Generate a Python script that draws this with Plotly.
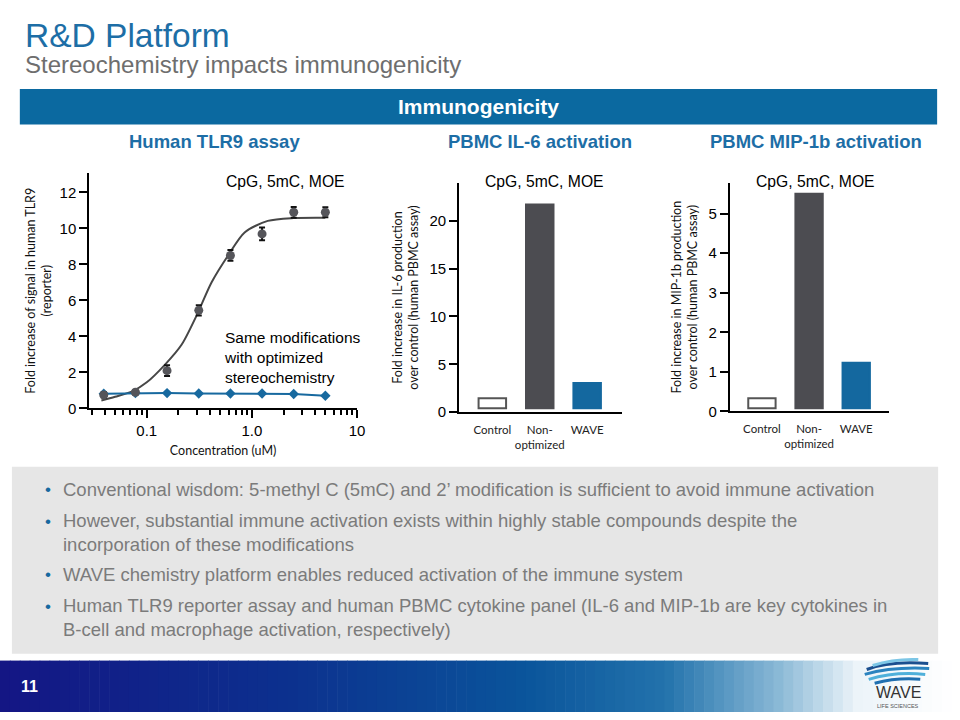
import plotly.graph_objects as go

# ---------------- data ----------------
conc_um = [0.039, 0.078, 0.156, 0.3125, 0.625, 1.25, 2.5, 5.0]
tlr9_nonopt = [0.75, 0.9, 2.1, 5.45, 8.5, 9.7, 10.9, 10.9]
tlr9_nonopt_err = [0.15, 0.12, 0.3, 0.28, 0.3, 0.35, 0.3, 0.28]
tlr9_wave = [0.82, 0.85, 0.85, 0.83, 0.83, 0.83, 0.8, 0.7]
# fitted curve
fit_conc = [0.037, 0.05, 0.073, 0.1, 0.15, 0.215, 0.3, 0.413, 0.594, 0.853, 1.415, 2.5, 5.0]
fit_vals = [0.44, 0.65, 0.95, 1.45, 2.45, 3.55, 5.2, 7.0, 8.5, 9.78, 10.42, 10.58, 10.6]

bar_cats = ["Control", "Non-<br>optimized", "WAVE"]
il6_vals = [1.45, 21.7, 3.05]
mip_vals = [0.33, 5.5, 1.23]
il6_base = [0.4, 0.4, 0.4]
mip_base = [0.08, 0.08, 0.08]

x_major = [0.1, 1, 10]
x_major_text = ["0.1", "1.0", "10"]
x_minor = [0.03, 0.04, 0.05, 0.06, 0.07, 0.08, 0.09,
           0.2, 0.3, 0.4, 0.5, 0.6, 0.7, 0.8, 0.9,
           2, 3, 4, 5, 6, 7, 8, 9]

bullets = [
    "Conventional wisdom: 5-methyl C (5mC) and 2’ modification is sufficient to avoid immune activation",
    "However, substantial immune activation exists within highly stable compounds despite the<br>incorporation of these modifications",
    "WAVE chemistry platform enables reduced activation of the immune system",
    "Human TLR9 reporter assay and human PBMC cytokine panel (IL-6 and MIP-1b are key cytokines in<br>B-cell and macrophage activation, respectively)",
]
bullet_y = [495, 538, 581, 624]

# ---------------- helpers ----------------
W, H = 960, 720
def px(x): return x / W
def py(y): return 1 - y / H

BLUE = "#17699f"
DARK = "#4c4c51"
ARIAL = "Arial, Liberation Sans, sans-serif"
MYR = "Lato, Open Sans, sans-serif"

fig = go.Figure()

# TLR9 chart
fig.add_trace(go.Scatter(x=fit_conc, y=fit_vals, mode="lines", line=dict(color="#474747", width=2, shape="spline", smoothing=0.8),
                         xaxis="x", yaxis="y", showlegend=False, hoverinfo="skip"))
fig.add_trace(go.Scatter(x=conc_um, y=tlr9_wave, mode="lines+markers",
                         line=dict(color=BLUE, width=2), marker=dict(symbol="diamond", size=8, color=BLUE),
                         xaxis="x", yaxis="y", showlegend=False))
fig.add_trace(go.Scatter(x=conc_um, y=tlr9_nonopt, mode="markers",
                         marker=dict(symbol="circle", size=9, color="#55555a"),
                         error_y=dict(type="data", array=tlr9_nonopt_err, color="#111111", thickness=2, width=3),
                         xaxis="x", yaxis="y", showlegend=False))

# bar charts
il6_len = [v - b for v, b in zip(il6_vals, il6_base)]
mip_len = [v - b for v, b in zip(mip_vals, mip_base)]
bar_fill = ["white", DARK, "#14689f"]
bar_line = ["#555555", DARK, "#14689f"]
fig.add_trace(go.Bar(x=bar_cats, y=il6_len, base=il6_base, width=0.58,
                     marker=dict(color=bar_fill, line=dict(color=bar_line, width=2)),
                     xaxis="x2", yaxis="y2", showlegend=False))
fig.add_trace(go.Bar(x=bar_cats, y=mip_len, base=mip_base, width=0.58,
                     marker=dict(color=bar_fill, line=dict(color=bar_line, width=2)),
                     xaxis="x3", yaxis="y3", showlegend=False))

axis_common = dict(showline=True, linecolor="black", linewidth=2, showgrid=False, zeroline=False,
                   tickfont=dict(family=ARIAL, size=15, color="black"))

shapes = []
# blue band
shapes.append(dict(type="rect", xref="paper", yref="paper", x0=px(20), x1=px(945), y0=py(126), y1=py(90),
                   fillcolor="#0b69a0", line=dict(width=0), layer="below"))
# gray box
shapes.append(dict(type="rect", xref="paper", yref="paper", x0=px(12), x1=px(946), y0=py(661), y1=py(472),
                   fillcolor="#e6e6e6", line=dict(width=0), layer="below"))
# footer gradient
stops = [(0.0, (20, 22, 132)), (0.3, (12, 48, 142)), (0.55, (10, 84, 155)), (0.7, (35, 115, 172)),
         (0.82, (140, 186, 215)), (0.9, (236, 244, 249)), (1.0, (255, 255, 255))]
def grad(t):
    for (t0, c0), (t1, c1) in zip(stops[:-1], stops[1:]):
        if t0 <= t <= t1:
            f = (t - t0) / (t1 - t0)
            return "rgb(%d,%d,%d)" % tuple(round(a + (b - a) * f) for a, b in zip(c0, c1))
    return "rgb(255,255,255)"
N = 96
for i in range(N):
    x0 = i * W / N
    x1 = (i + 1) * W / N + 0.6
    shapes.append(dict(type="rect", xref="paper", yref="paper", x0=px(x0), x1=min(px(x1), 1), y0=0, y1=py(668),
                       fillcolor=grad((i + 0.5) / N), line=dict(width=0), layer="below"))
# logo waves
wave_cols = ["#1b4f8f", "#2a83bf", "#4fb0da", "#1f6fb0", "#7cc6e6"]
wave_paths = [
    "M 874 677 Q 897 668 936 671",
    "M 872 682 Q 900 674 937 676",
    "M 876 687 Q 902 679 933 682",
    "M 882 691 Q 905 685 928 687",
    "M 880 673 Q 902 666 926 667",
]
for pth, col in zip(wave_paths, wave_cols):
    toks = pth.split()
    out = []
    i = 0
    while i < len(toks):
        tk = toks[i]
        if tk in ("M", "Q"):
            out.append(tk)
            i += 1
        else:
            xv = float(toks[i]); yv = float(toks[i + 1])
            out.append("%.5f,%.5f" % (px(xv), py(yv)))
            i += 2
    shapes.append(dict(type="path", xref="paper", yref="paper", path=" ".join(out),
                       line=dict(color=col, width=3)))

ann = []
def t(x, y, text, size, color="black", bold=False, family=ARIAL, xanchor="center", align="center", yanchor="middle"):
    ann.append(dict(x=px(x), y=py(y), xref="paper", yref="paper", text=("<b>%s</b>" % text) if bold else text,
                    showarrow=False, xanchor=xanchor, yanchor=yanchor, align=align,
                    font=dict(family=family, size=size, color=color)))

t(23, 36, "R&D Platform", 33.5, color="#1d6ea6", xanchor="left")
t(23, 65, "Stereochemistry impacts immunogenicity", 24, color="#6e6e6e", xanchor="left")
t(483, 108, "Immunogenicity", 21, color="white", bold=True)
t(216, 143, "Human TLR9 assay", 18.5, color="#1d6ea6", bold=True)
t(545, 143, "PBMC IL-6 activation", 18.5, color="#1d6ea6", bold=True)
t(823, 143, "PBMC MIP-1b activation", 18.5, color="#1d6ea6", bold=True)
t(288, 184, "CpG, 5mC, MOE", 15.7)
t(549, 184, "CpG, 5mC, MOE", 15.7)
t(822, 184, "CpG, 5mC, MOE", 15.7)
t(224, 362, "Same modifications<br>with optimized<br>stereochemistry", 15.5, xanchor="left", align="left")
for txt, yy in zip(bullets, bullet_y):
    t(62, yy, txt, 18.5, color="#7b7b7b", xanchor="left", align="left")
    first_y = yy - (11 if "<br>" in txt else 0)
    t(48, first_y, "•", 17, color=BLUE)
t(30, 694, "11", 16, color="white", bold=True)
t(906, 700, "WAVE", 16, color="#333333")
t(906, 714, "LIFE SCIENCES", 5.5, color="#555555")

title_font = dict(family=MYR, size=12.5, color="#111")
fig.update_layout(
    width=W, height=H, margin=dict(l=0, r=0, t=0, b=0), autosize=False,
    paper_bgcolor="white", plot_bgcolor="rgba(0,0,0,0)",
    shapes=shapes, annotations=ann, bargap=0.4,
    xaxis=dict(axis_common, type="log", domain=[px(90), px(360)], range=[-1.547, 1.0],
               tickvals=x_major, ticktext=x_major_text, ticks="outside", ticklen=8, tickwidth=2, tickcolor="black",
               minor=dict(tickvals=x_minor, ticks="outside", ticklen=5, tickwidth=1.5, tickcolor="black", showgrid=False),
               anchor="y",
               title=dict(text="Concentration (uM)", font=title_font, standoff=8)),
    yaxis=dict(axis_common, domain=[py(413), py(175)], range=[0, 13.08], dtick=2, ticks="outside", ticklen=8,
               tickwidth=2, tickcolor="black", anchor="x",
               title=dict(text="Fold increase of signal in human TLR9<br>(reporter)", font=title_font, standoff=5)),
    xaxis2=dict(axis_common, domain=[px(463), px(627)], range=[-0.70, 2.73], ticks="", anchor="y2",
                tickfont=dict(family=MYR, size=11.5, color="#222"), ticklabelstandoff=6),
    yaxis2=dict(axis_common, domain=[py(416.7), py(185)], range=[0, 23.96], dtick=5, ticks="outside", ticklen=8,
                tickwidth=2, tickcolor="black", anchor="x2",
                title=dict(text="Fold increase in IL-6 production<br>over control (human PBMC assay)",
                           font=title_font, standoff=8)),
    xaxis3=dict(axis_common, domain=[px(736), px(896.7)], range=[-0.68, 2.70], ticks="", anchor="y3",
                tickfont=dict(family=MYR, size=11.5, color="#222"), ticklabelstandoff=6),
    yaxis3=dict(axis_common, domain=[py(416), py(185)], range=[0, 5.775], dtick=1, ticks="outside", ticklen=8,
                tickwidth=2, tickcolor="black", anchor="x3",
                title=dict(text="Fold increase in MIP-1b production<br>over control (human PBMC assay)",
                           font=title_font, standoff=8)),
)

fig.write_html(
    "out.html",
    config={"displayModeBar": False, "responsive": False},
    post_script=(
        "document.documentElement.style.margin='0px';document.body.style.margin='0px';"
        "var d=document.getElementById('{plot_id}');d.style.position='fixed';d.style.left='0px';d.style.top='0px';"
    ),
)
